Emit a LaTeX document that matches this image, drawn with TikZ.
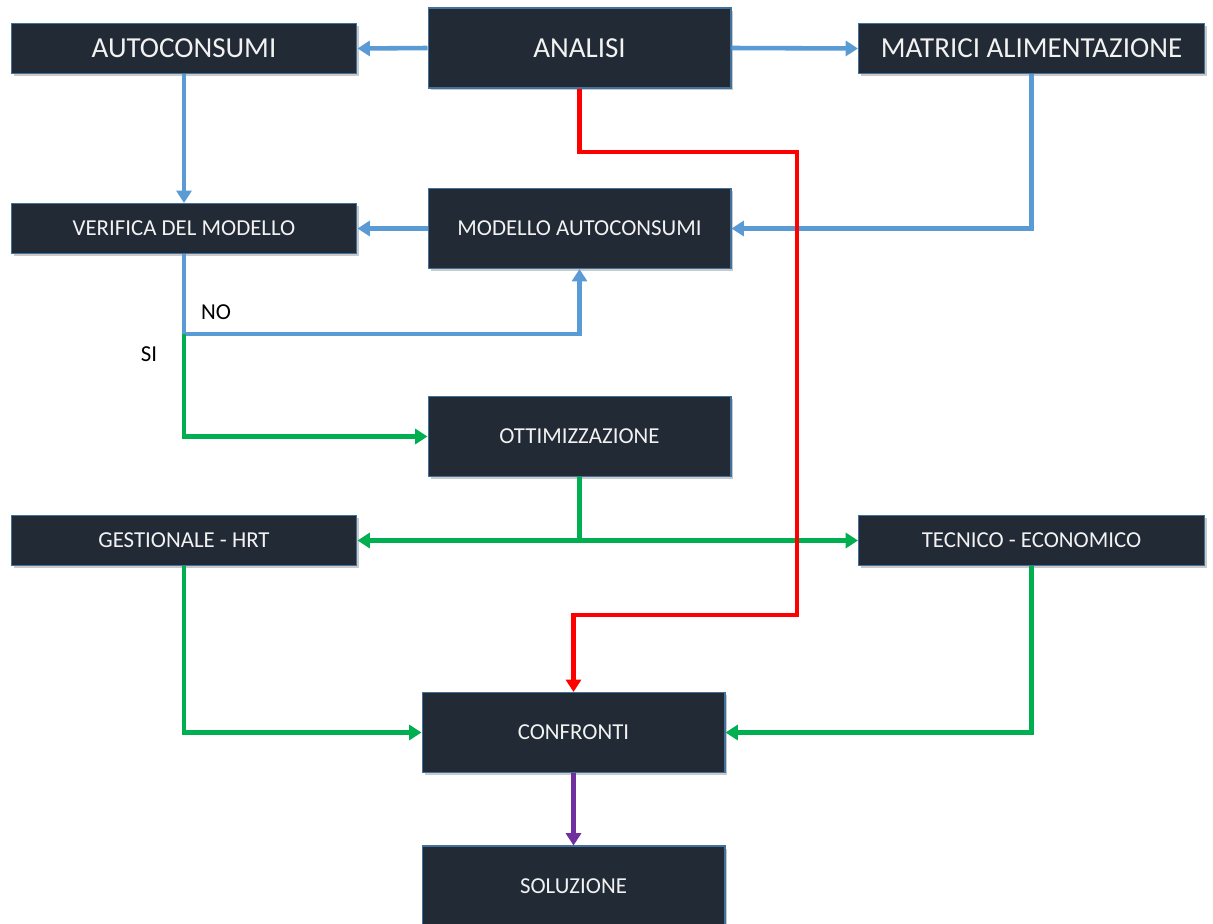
\documentclass[tikz,border=0pt]{standalone}
\usepackage{fontspec}
\setmainfont{Carlito}
\usetikzlibrary{arrows.meta,shadows}
\definecolor{boxfill}{HTML}{222A35}
\definecolor{boxline}{HTML}{41719C}
\definecolor{lblue}{HTML}{5B9BD5}
\definecolor{lgreen}{HTML}{00B050}
\definecolor{lred}{HTML}{FF0000}
\definecolor{lpurple}{HTML}{7030A0}
\definecolor{txt}{HTML}{F2F2F2}
\tikzset{
  box/.style={draw=boxline, line width=0.6pt, fill=boxfill, text=txt,
    inner sep=0pt, align=center,
    drop shadow={shadow xshift=0.05cm, shadow yshift=-0.05cm, opacity=0.35, fill=black!60}},
  wbox/.style={box, minimum width=6.92cm, minimum height=1.0cm},
  nbox/.style={box, minimum width=6.06cm, minimum height=1.6cm},
  bigtxt/.style={font=\fontsize{16.5pt}{18pt}\selectfont},
  smalltxt/.style={font=\fontsize{13pt}{15pt}\selectfont},
  tip/.style={Triangle[length=7pt,width=8.5pt]},
  conn/.style={line width=2.6pt, -{Triangle[length=7pt,width=8.5pt]}},
  plainconn/.style={line width=2.6pt},
  lbl/.style={font=\fontsize{13pt}{15pt}\selectfont, text=black, inner sep=0pt}
}
\begin{document}
\begin{tikzpicture}[x=0.02cm, y=-0.02cm]
\useasboundingbox (0,0) rectangle (1213,923);
% boxes
\node[wbox, bigtxt] (auto) at (184,48.5) {AUTOCONSUMI};
\node[nbox, bigtxt] (analisi) at (579.5,48) {ANALISI};
\node[wbox, bigtxt] (matrici) at (1031.5,48.5) {MATRICI ALIMENTAZIONE};
\node[wbox, smalltxt] (verifica) at (184,228.5) {VERIFICA DEL MODELLO};
\node[nbox, smalltxt] (modello) at (579.5,228.5) {MODELLO AUTOCONSUMI};
\node[nbox, smalltxt] (ottim) at (579.5,436.5) {OTTIMIZZAZIONE};
\node[wbox, smalltxt] (gest) at (184,540.5) {GESTIONALE - HRT};
\node[wbox, smalltxt] (tecnico) at (1031.5,540.5) {TECNICO - ECONOMICO};
\node[nbox, smalltxt] (confronti) at (573.5,732.5) {CONFRONTI};
\node[nbox, smalltxt] (soluzione) at (573.5,886) {SOLUZIONE};
% labels
\node[lbl] (no) at (216,312) {NO};
\node[lbl] (si) at (149,354) {SI};
% coordinates
\coordinate (j1) at (184,334);
\coordinate (r1) at (797,152);
\coordinate (r2) at (797,615);
% blue connectors
\draw[conn, lblue] (analisi.west) -- (auto.east);
\draw[conn, lblue] (analisi.east) -- (matrici.west);
\draw[conn, lblue] (auto.south) -- (verifica.north);
\draw[conn, lblue] (modello.west) -- (verifica.east);
\draw[conn, lblue] (matrici.south) |- (modello.east);
\draw[conn, lblue] (verifica.south) -- (j1) -| (modello.south);
% green connectors
\draw[conn, lgreen] (j1) |- (ottim.west);
\draw[plainconn, lgreen] (ottim.south) -- (ottim.south |- gest.east);
\draw[plainconn, lgreen, {Triangle[length=7pt,width=8.5pt]}-{Triangle[length=7pt,width=8.5pt]}] (gest.east) -- (tecnico.west);
\draw[conn, lgreen] (gest.south) |- (confronti.west);
\draw[conn, lgreen] (tecnico.south) |- (confronti.east);
% purple
\draw[conn, lpurple] (confronti.south) -- (soluzione.north);
% red
\draw[conn, lred] (analisi.south) |- (r1) -- (r2) -| (confronti.north);
\end{tikzpicture}
\end{document}
